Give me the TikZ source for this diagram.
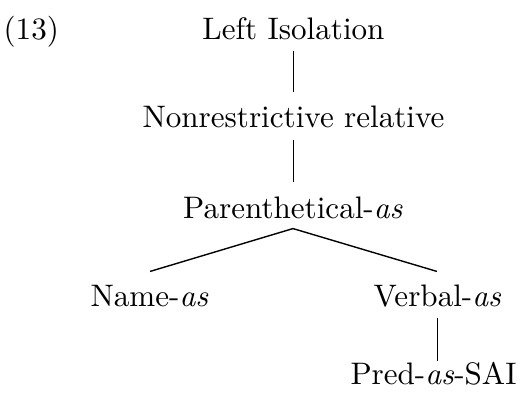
\documentclass[tikz,border=0pt]{standalone}
\usetikzlibrary{calc}
\begin{document}
\begin{tikzpicture}[x=0.3215pt,y=-0.3215pt,
  lab/.style={anchor=base,inner sep=0pt,text height=6.94pt,text depth=0pt},
  branch/.style={line width=0.45pt}]
\useasboundingbox (0,0) rectangle (522,398);
\node[anchor=base west,inner sep=0pt] (num) at (3,40) {(13)};
\node[lab] (li) at (293.5,40) {Left Isolation};
\node[lab] (nr) at (293.5,128) {Nonrestrictive relative};
\node[lab] (pa) at (293,218) {Parenthetical-\textit{as}};
\node[lab] (na) at (149.5,307) {Name-\textit{as}};
\node[lab] (va) at (437.5,307) {Verbal-\textit{as}};
\node[lab] (pr) at (433.5,385) {Pred-\textit{as}-SAI};
\draw[branch] ($(li.south)+(0,-3.2pt)$) -- ($(li.south |- nr.north)+(0,4.3pt)$);
\draw[branch] ($(nr.south)+(0,-3.8pt)$) -- ($(nr.south |- pa.north)+(0,4.3pt)$);
\draw[branch] ($(pa.south)+(0,-3.2pt)$) -- ($(na.north)+(0.2pt,4.3pt)$);
\draw[branch] ($(pa.south)+(0,-3.2pt)$) -- ($(va.north)+(-0.2pt,4.3pt)$);
\draw[branch] ($(va.south)+(0,-3.2pt)$) -- ($(va.south |- pr.north)+(0,0.6pt)$);
\end{tikzpicture}
\end{document}
